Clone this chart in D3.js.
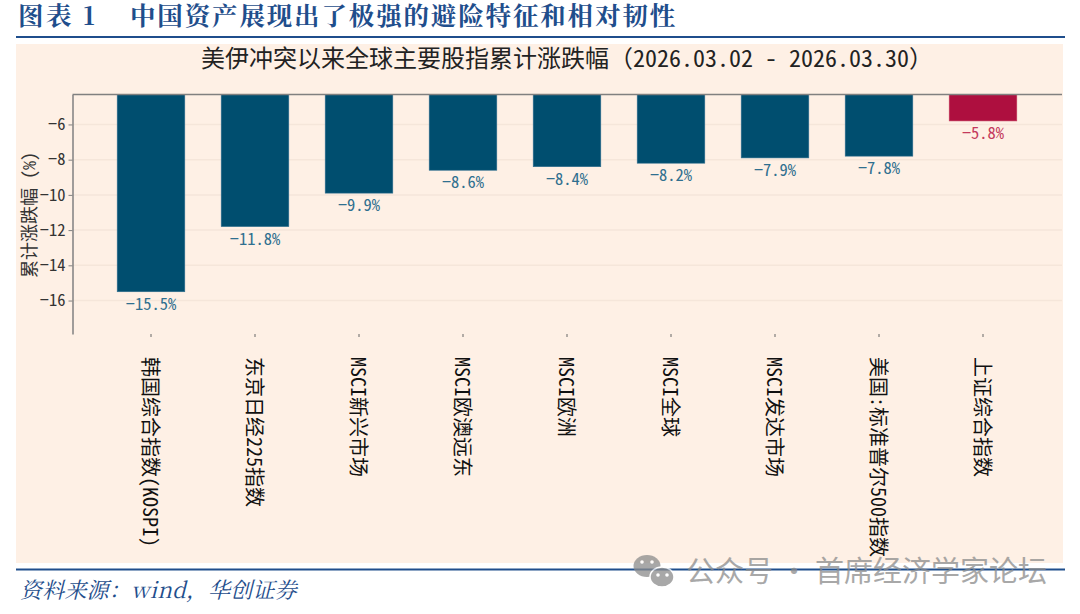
<!DOCTYPE html>
<html>
<head>
<meta charset="utf-8">
<script src="https://cdn.jsdelivr.net/npm/d3@7.9.0/dist/d3.min.js"></script>
<style>
  html, body { margin: 0; padding: 0; background: #fff; }
  svg { display: block; }
  text { font-family: "Noto Sans Mono CJK SC", "Noto Sans CJK SC", sans-serif; }
</style>
</head>
<body>
<div id="chart"></div>
<script>
const headingLabel = "图表 1";
const headingText = "中国资产展现出了极强的避险特征和相对韧性";
const chartTitle = "美伊冲突以来全球主要股指累计涨跌幅（2026.03.02 - 2026.03.30）";
const yLabel = "累计涨跌幅 (%)";
const sourceText = "资料来源：wind，华创证券";
const watermark = "公众号 · 首席经济学家论坛";

const categories = ["韩国综合指数(KOSPI)", "东京日经225指数", "MSCI新兴市场", "MSCI欧澳远东", "MSCI欧洲", "MSCI全球", "MSCI发达市场", "美国:标准普尔500指数", "上证综合指数"];
const values = [-15.5, -11.8, -9.9, -8.6, -8.4, -8.2, -7.9, -7.8, -5.8];
const yTicks = [-6, -8, -10, -12, -14, -16];

const width = 1080, height = 614;
const navy = "#1f4e8c", barBlue = "#004e6f", barRed = "#ae0f3f";
const serif = '"Noto Serif CJK SC", "Noto Sans CJK SC", serif';

const svg = d3.select("#chart").append("svg").attr("width", width).attr("height", height);

// panel
svg.append("rect").attr("x", 16).attr("y", 44).attr("width", 1047).attr("height", 519).attr("fill", "#fef0e5");

// heading + rules
svg.append("text").attr("x", 18).attr("y", 25).attr("font-size", 25.5).attr("font-weight", "bold")
  .attr("letter-spacing", 2.5).attr("fill", navy).style("font-family", serif).text(headingLabel);
svg.append("text").attr("x", 130).attr("y", 25).attr("font-size", 25.5).attr("font-weight", "bold")
  .attr("letter-spacing", 1.85).attr("fill", navy).style("font-family", serif).text(headingText);
svg.append("line").attr("x1", 16).attr("x2", 1065).attr("y1", 37).attr("y2", 37).attr("stroke", navy).attr("stroke-width", 2);

svg.append("text").attr("x", 567).attr("y", 67).attr("text-anchor", "middle").attr("font-size", 24)
  .attr("fill", "#222").text(chartTitle);

// scales
const x = d3.scaleBand().domain(categories).range([99, 1035]).paddingInner(0.35).paddingOuter(0.175);
const y = d3.scaleLinear().domain([-4.3, -17.9]).range([94.5, 334]);

// grid
svg.append("g").selectAll("line").data(yTicks).enter().append("line")
  .attr("x1", 72.5).attr("x2", 1062).attr("y1", d => y(d)).attr("y2", d => y(d))
  .attr("stroke", "#f5e6da").attr("stroke-width", 1.5);

// bars
svg.append("g").selectAll("rect").data(values).enter().append("rect")
  .attr("x", (d, i) => x(categories[i]))
  .attr("y", y.range()[0])
  .attr("width", x.bandwidth())
  .attr("height", d => y(d) - y.range()[0])
  .attr("fill", (d, i) => i === values.length - 1 ? barRed : barBlue)
  .attr("stroke", (d, i) => i === values.length - 1 ? "#c43a5c" : "#2f6f8f")
  .attr("stroke-width", 0.6);

// value labels
svg.append("g").selectAll("text").data(values).enter().append("text")
  .attr("x", (d, i) => x(categories[i]) + x.bandwidth() / 2)
  .attr("y", d => y(d) + 18)
  .attr("text-anchor", "middle")
  .attr("font-size", 16.5)
  .attr("fill", (d, i) => i === values.length - 1 ? "#c43a5c" : "#2f6f8f")
  .text(d => d3.format(".1f")(d) + "%");

// axes
const yAxis = svg.append("g").attr("transform", "translate(72.5,0)")
  .call(d3.axisLeft(y).tickValues(yTicks).tickSize(4).tickSizeOuter(0));
yAxis.selectAll("text").attr("font-size", 16.5).attr("fill", "#333");
yAxis.selectAll(".tick line").attr("stroke", "#808080");
yAxis.select(".domain").attr("stroke", "#808080").attr("stroke-width", 1.5);

svg.append("line").attr("x1", 72.5).attr("x2", 1062).attr("y1", 94.5).attr("y2", 94.5)
  .attr("stroke", "#808080").attr("stroke-width", 1.5);

const xAxis = svg.append("g").attr("transform", "translate(0,334)")
  .call(d3.axisBottom(x).tickSize(3).tickPadding(0).tickSizeOuter(0));
xAxis.select(".domain").remove();
xAxis.selectAll(".tick line").attr("stroke", "#666");
xAxis.selectAll("text")
  .attr("font-size", 20)
  .attr("fill", "#111")
  .attr("text-anchor", "start")
  .attr("dy", null)
  .attr("y", null)
  .attr("dominant-baseline", "central")
  .attr("transform", "translate(0,23) rotate(90)");

svg.append("text")
  .attr("transform", "translate(28,215) rotate(-90)")
  .attr("text-anchor", "middle").attr("dominant-baseline", "central")
  .attr("font-size", 18).attr("fill", "#333").text(yLabel);

// bottom rule + source
svg.append("line").attr("x1", 16).attr("x2", 1065).attr("y1", 569.5).attr("y2", 569.5).attr("stroke", navy).attr("stroke-width", 2);
svg.append("text").attr("x", 20).attr("y", 598).attr("font-size", 22).attr("letter-spacing", 0.2).attr("font-style", "italic")
  .attr("fill", navy).style("font-family", '"Noto Serif CJK SC", "Liberation Serif", "Noto Sans CJK SC", serif').text(sourceText);

// watermark
const wm = svg.append("g").attr("opacity", 0.75);
wm.append("ellipse").attr("cx", 647).attr("cy", 566).attr("rx", 13.5).attr("ry", 11).attr("fill", "#8c8c8c");
wm.append("ellipse").attr("cx", 662).attr("cy", 577).attr("rx", 12).attr("ry", 10).attr("fill", "#8c8c8c").attr("stroke", "#fff").attr("stroke-width", 1.5);
wm.append("g").selectAll("circle").data([[642, 562], [652, 562], [658, 575], [667, 575]]).enter().append("circle")
  .attr("cx", d => d[0]).attr("cy", d => d[1]).attr("r", 1.8).attr("fill", "#fff");
svg.append("text").attr("x", 686).attr("y", 582).attr("font-size", 29).attr("fill", "#8c8c8c").attr("opacity", 0.75)
  .style("font-family", '"Noto Sans CJK SC", sans-serif').text(watermark);
</script>
</body>
</html>
